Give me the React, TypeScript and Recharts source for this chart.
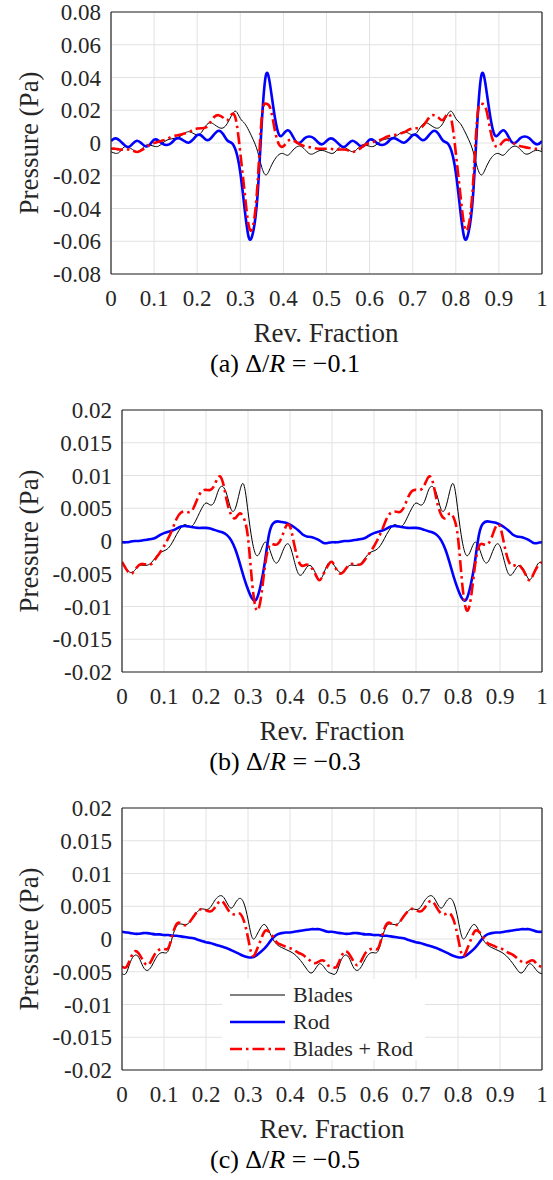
import React from 'react'
import { LineChart, Line, XAxis, YAxis, CartesianGrid } from 'recharts'

// sample positions (fraction of one revolution)
const revFraction = [
  0, 0.01, 0.02, 0.03, 0.04, 0.05, 0.06, 0.07, 0.08, 0.09,
  0.1, 0.11, 0.12, 0.13, 0.14, 0.15, 0.16, 0.17, 0.18, 0.19,
  0.2, 0.21, 0.22, 0.23, 0.24, 0.25, 0.26, 0.27, 0.28, 0.29,
  0.3, 0.31, 0.32, 0.33, 0.34, 0.35, 0.36, 0.37, 0.38, 0.39,
  0.4, 0.41, 0.42, 0.43, 0.44, 0.45, 0.46, 0.47, 0.48, 0.49,
  0.5, 0.51, 0.52, 0.53, 0.54, 0.55, 0.56, 0.57, 0.58, 0.59,
  0.6, 0.61, 0.62, 0.63, 0.64, 0.65, 0.66, 0.67, 0.68, 0.69,
  0.7, 0.71, 0.72, 0.73, 0.74, 0.75, 0.76, 0.77, 0.78, 0.79,
  0.8, 0.81, 0.82, 0.83, 0.84, 0.85, 0.86, 0.87, 0.88, 0.89,
  0.9, 0.91, 0.92, 0.93, 0.94, 0.95, 0.96, 0.97, 0.98, 0.99,
  1
]

// (a) Delta/R = -0.1
const bladesA = [
  -0.0053, -0.0063, -0.0055, -0.0025, -0.0025, -0.004, -0.0053, -0.004, -0.0015, -0.0012,
  -0.002, -0.002, 0.0, 0.0018, 0.0025, 0.003, 0.004, 0.0058, 0.0069, 0.006,
  0.005, 0.0065, 0.0105, 0.0124, 0.0112, 0.0095, 0.0092, 0.012, 0.017, 0.0193,
  0.015, 0.012, 0.0075, 0.002, -0.005, -0.015, -0.0195, -0.015, -0.01, -0.007,
  -0.0065, -0.0075, -0.005, -0.0025, -0.002, -0.004, -0.0065, -0.0065, -0.005, -0.0045,
  -0.0053, -0.0063, -0.0055, -0.0025, -0.0025, -0.004, -0.0053, -0.004, -0.0015, -0.0012,
  -0.002, -0.002, 0.0, 0.0018, 0.0025, 0.003, 0.004, 0.0058, 0.0069, 0.006,
  0.005, 0.0065, 0.0105, 0.0124, 0.0112, 0.0095, 0.0092, 0.012, 0.017, 0.0193,
  0.015, 0.012, 0.0075, 0.002, -0.005, -0.015, -0.0195, -0.015, -0.01, -0.007,
  -0.0065, -0.0075, -0.005, -0.0025, -0.002, -0.004, -0.0065, -0.0065, -0.005, -0.0045,
  -0.0053
]
const rodA = [
  0.0012, 0.0028, 0.0015, -0.001, -0.0025, -0.0005, 0.0014, 0.0, -0.002, -0.001,
  0.002, 0.0015, -0.0005, -0.0012, 0.0, 0.0025, 0.0028, 0.0012, 0.0002, 0.002,
  0.0048, 0.0045, 0.002, 0.0025, 0.0055, 0.0075, 0.0055, 0.0015, 0.0, -0.005,
  -0.018, -0.04, -0.058, -0.054, -0.032, 0.013, 0.042, 0.034, 0.016, 0.005,
  0.0055, 0.0078, 0.005, 0.0005, 0.0005, 0.003, 0.004, 0.003, 0.0005, -0.0008,
  0.0012, 0.0028, 0.0015, -0.001, -0.0025, -0.0005, 0.0014, 0.0, -0.002, -0.001,
  0.002, 0.0015, -0.0005, -0.0012, 0.0, 0.0025, 0.0028, 0.0012, 0.0002, 0.002,
  0.0048, 0.0045, 0.002, 0.0025, 0.0055, 0.0075, 0.0055, 0.0015, 0.0, -0.005,
  -0.018, -0.04, -0.058, -0.054, -0.032, 0.013, 0.042, 0.034, 0.016, 0.005,
  0.0055, 0.0078, 0.005, 0.0005, 0.0005, 0.003, 0.004, 0.003, 0.0005, -0.0008,
  0.0012
]
const bladesRodA = [
  -0.0035, -0.0035, -0.004, -0.004, -0.004, -0.0045, -0.0055, -0.0045, -0.003, -0.001,
  0.0, 0.0008, 0.0015, 0.0025, 0.0038, 0.0045, 0.005, 0.0058, 0.0065, 0.008,
  0.0088, 0.009, 0.0095, 0.0125, 0.016, 0.017, 0.0155, 0.014, 0.0175, 0.014,
  -0.006, -0.03, -0.051, -0.05, -0.025, 0.016, 0.024, 0.021, 0.008, -0.001,
  -0.002, 0.001, 0.002, 0.0005, -0.001, -0.002, -0.0025, -0.003, -0.0035, -0.0035,
  -0.0035, -0.0035, -0.004, -0.004, -0.004, -0.0045, -0.0055, -0.0045, -0.003, -0.001,
  0.0, 0.0008, 0.0015, 0.0025, 0.0038, 0.0045, 0.005, 0.0058, 0.0065, 0.008,
  0.0088, 0.009, 0.0095, 0.0125, 0.016, 0.017, 0.0155, 0.014, 0.0175, 0.014,
  -0.006, -0.03, -0.051, -0.05, -0.025, 0.016, 0.024, 0.021, 0.008, -0.001,
  -0.002, 0.001, 0.002, 0.0005, -0.001, -0.002, -0.0025, -0.003, -0.0035, -0.0035,
  -0.0035
]

// (b) Delta/R = -0.3
const bladesB = [
  -0.0033, -0.0042, -0.0048, -0.0045, -0.0038, -0.0037, -0.0037, -0.0033, -0.0025, -0.0018,
  -0.0015, -0.0011, -0.0002, 0.001, 0.002, 0.0025, 0.0022, 0.0025, 0.0037, 0.005,
  0.0058, 0.0055, 0.006, 0.0078, 0.0083, 0.007, 0.0048, 0.005, 0.0075, 0.0086,
  0.0045, 0.0, -0.0022, -0.0015, -0.0002, -0.001, -0.0028, -0.0033, -0.002, -0.0006,
  -0.0008, -0.003, -0.005, -0.005, -0.004, -0.0038, -0.0048, -0.0059, -0.005, -0.0035,
  -0.0033, -0.0042, -0.0048, -0.0045, -0.0038, -0.0037, -0.0037, -0.0033, -0.0025, -0.0018,
  -0.0015, -0.0011, -0.0002, 0.001, 0.002, 0.0025, 0.0022, 0.0025, 0.0037, 0.005,
  0.0058, 0.0055, 0.006, 0.0078, 0.0083, 0.007, 0.0048, 0.005, 0.0075, 0.0086,
  0.0045, 0.0, -0.0022, -0.0015, -0.0002, -0.001, -0.0028, -0.0033, -0.002, -0.0006,
  -0.0008, -0.003, -0.005, -0.005, -0.004, -0.0038, -0.0048, -0.0059, -0.005, -0.0035,
  -0.0033
]
const rodB = [
  -0.0002, -0.0002, -0.0001, 0.0, 0.0, 0.0001, 0.0002, 0.0003, 0.0005, 0.0009,
  0.0012, 0.0014, 0.0016, 0.0019, 0.0022, 0.0023, 0.0022, 0.0021, 0.002, 0.002,
  0.002, 0.0019, 0.0017, 0.0015, 0.0013, 0.0009, 0.0001, -0.0013, -0.0033, -0.0055,
  -0.0074, -0.0088, -0.0089, -0.0068, -0.0033, 0.001, 0.0027, 0.003, 0.0029, 0.0028,
  0.0025, 0.0021, 0.0016, 0.001, 0.0007, 0.0006, 0.0004, 0.0001, -0.0003, -0.0003,
  -0.0002, -0.0002, -0.0001, 0.0, 0.0, 0.0001, 0.0002, 0.0003, 0.0005, 0.0009,
  0.0012, 0.0014, 0.0016, 0.0019, 0.0022, 0.0023, 0.0022, 0.0021, 0.002, 0.002,
  0.002, 0.0019, 0.0017, 0.0015, 0.0013, 0.0009, 0.0001, -0.0013, -0.0033, -0.0055,
  -0.0074, -0.0088, -0.0089, -0.0068, -0.0033, 0.001, 0.0027, 0.003, 0.0029, 0.0028,
  0.0025, 0.0021, 0.0016, 0.001, 0.0007, 0.0006, 0.0004, 0.0001, -0.0003, -0.0003,
  -0.0002
]
const bladesRodB = [
  -0.0032, -0.0043, -0.005, -0.0045, -0.0037, -0.0035, -0.0036, -0.0035, -0.0027, -0.0018,
  -0.0008, 0.0004, 0.0018, 0.0034, 0.0043, 0.0045, 0.0044, 0.005, 0.0065, 0.0076,
  0.0078, 0.0078, 0.0085, 0.0098, 0.009, 0.006, 0.004, 0.0035, 0.0042, 0.0035,
  0.0005, -0.0065, -0.0105, -0.009, -0.004, -0.0008, -0.0005, -0.0005, 0.0005, 0.0022,
  0.0022, -0.0005, -0.003, -0.0038, -0.0036, -0.004, -0.005, -0.006, -0.005, -0.0038,
  -0.0032, -0.0043, -0.005, -0.0045, -0.0037, -0.0035, -0.0036, -0.0035, -0.0027, -0.0018,
  -0.0008, 0.0004, 0.0018, 0.0034, 0.0043, 0.0045, 0.0044, 0.005, 0.0065, 0.0076,
  0.0078, 0.0078, 0.0085, 0.0098, 0.009, 0.006, 0.004, 0.0035, 0.0042, 0.0035,
  0.0005, -0.0065, -0.0105, -0.009, -0.004, -0.0008, -0.0005, -0.0005, 0.0005, 0.0022,
  0.0022, -0.0005, -0.003, -0.0038, -0.0036, -0.004, -0.005, -0.006, -0.005, -0.0038,
  -0.0032
]

// (c) Delta/R = -0.5
const bladesC = [
  -0.0053, -0.0052, -0.0035, -0.0025, -0.0028, -0.0042, -0.0048, -0.0042, -0.003, -0.0022,
  -0.0021, -0.0018, 0.0003, 0.002, 0.0023, 0.0022, 0.0025, 0.0035, 0.0042, 0.0046,
  0.0045, 0.0048, 0.0058, 0.0065, 0.0065, 0.0055, 0.0047, 0.0055, 0.0062, 0.0055,
  0.003, 0.0002, 0.0005, 0.0017, 0.0022, 0.0012, -0.0001, -0.0009, -0.0013, -0.0016,
  -0.0019, -0.0023, -0.0029, -0.0037, -0.0046, -0.0052, -0.0046, -0.0038, -0.0042, -0.005,
  -0.0053, -0.0052, -0.0035, -0.0025, -0.0028, -0.0042, -0.0048, -0.0042, -0.003, -0.0022,
  -0.0021, -0.0018, 0.0003, 0.002, 0.0023, 0.0022, 0.0025, 0.0035, 0.0042, 0.0046,
  0.0045, 0.0048, 0.0058, 0.0065, 0.0065, 0.0055, 0.0047, 0.0055, 0.0062, 0.0055,
  0.003, 0.0002, 0.0005, 0.0017, 0.0022, 0.0012, -0.0001, -0.0009, -0.0013, -0.0016,
  -0.0019, -0.0023, -0.0029, -0.0037, -0.0046, -0.0052, -0.0046, -0.0038, -0.0042, -0.005,
  -0.0053
]
const rodC = [
  0.0011, 0.001, 0.0009, 0.0008, 0.0008, 0.0009, 0.0009, 0.0008, 0.0007, 0.0007,
  0.0006, 0.0006, 0.0005, 0.0005, 0.0004, 0.0003, 0.0002, 0.0001, -0.0001, -0.0003,
  -0.0005, -0.0006, -0.0008, -0.001, -0.0012, -0.0014, -0.0017, -0.002, -0.0023, -0.0026,
  -0.0028, -0.0028, -0.0025, -0.002, -0.0014, -0.0006, 0.0002, 0.0007, 0.0009, 0.001,
  0.001, 0.0011, 0.0012, 0.0013, 0.0014, 0.0015, 0.0015, 0.0015, 0.0013, 0.0011,
  0.0011, 0.001, 0.0009, 0.0008, 0.0008, 0.0009, 0.0009, 0.0008, 0.0007, 0.0007,
  0.0006, 0.0006, 0.0005, 0.0005, 0.0004, 0.0003, 0.0002, 0.0001, -0.0001, -0.0003,
  -0.0005, -0.0006, -0.0008, -0.001, -0.0012, -0.0014, -0.0017, -0.002, -0.0023, -0.0026,
  -0.0028, -0.0028, -0.0025, -0.002, -0.0014, -0.0006, 0.0002, 0.0007, 0.0009, 0.001,
  0.001, 0.0011, 0.0012, 0.0013, 0.0014, 0.0015, 0.0015, 0.0015, 0.0013, 0.0011,
  0.0011
]
const bladesRodC = [
  -0.0042, -0.0043, -0.003, -0.0019, -0.0022, -0.0033, -0.004, -0.0033, -0.0021, -0.0016,
  -0.0015, -0.0014, 0.0006, 0.0023, 0.0024, 0.0021, 0.0025, 0.0034, 0.0042, 0.0046,
  0.0044, 0.0042, 0.0047, 0.0056, 0.0057, 0.0047, 0.0039, 0.0038, 0.0039, 0.0028,
  0.0002, -0.0025, -0.0018, -0.0002, 0.0012, 0.0011, 0.0003, -0.0006, -0.0009, -0.0012,
  -0.0014, -0.0017, -0.0021, -0.0024, -0.0029, -0.0034, -0.0037, -0.0034, -0.0033, -0.004,
  -0.0042, -0.0043, -0.003, -0.0019, -0.0022, -0.0033, -0.004, -0.0033, -0.0021, -0.0016,
  -0.0015, -0.0014, 0.0006, 0.0023, 0.0024, 0.0021, 0.0025, 0.0034, 0.0042, 0.0046,
  0.0044, 0.0042, 0.0047, 0.0056, 0.0057, 0.0047, 0.0039, 0.0038, 0.0039, 0.0028,
  0.0002, -0.0025, -0.0018, -0.0002, 0.0012, 0.0011, 0.0003, -0.0006, -0.0009, -0.0012,
  -0.0014, -0.0017, -0.0021, -0.0024, -0.0029, -0.0034, -0.0037, -0.0034, -0.0033, -0.004,
  -0.0042
]

const xTicks = [0, 0.1, 0.2, 0.3, 0.4, 0.5, 0.6, 0.7, 0.8, 0.9, 1]
const yTicksA = [-0.08, -0.06, -0.04, -0.02, 0, 0.02, 0.04, 0.06, 0.08]
const yTicksBC = [-0.02, -0.015, -0.01, -0.005, 0, 0.005, 0.01, 0.015, 0.02]
const seriesNames = ['Blades', 'Rod', 'Blades + Rod']

const FONT = '"Liberation Serif", "Times New Roman", Times, serif'
const AXIS = '#262626'
const GRID = '#e2e2e2'
const PLOT_H = 262
const TICK_FONT = 23

// tick labels drawn by hand so the serif face is used
const XTick = (props: any) => (
  <text
    x={props.x}
    y={props.y}
    dy={32}
    textAnchor='middle'
    fill={AXIS}
    fontSize={TICK_FONT}
    fontFamily={FONT}
  >
    {String(props.payload.value)}
  </text>
)

const YTick = (props: any) => (
  <text
    x={props.x}
    y={props.y}
    dx={-10}
    dy={8}
    textAnchor='end'
    fill={AXIS}
    fontSize={TICK_FONT}
    fontFamily={FONT}
  >
    {String(props.payload.value)}
  </text>
)

interface PanelProps {
  top: number
  plotLeft: number
  blades: number[]
  rod: number[]
  sum: number[]
  yTicks: number[]
}

const Panel: React.FC<PanelProps> = ({ top, plotLeft, blades, rod, sum, yTicks }) => {
  const data = revFraction.map((f, i) => ({
    f,
    blades: blades[i],
    rod: rod[i],
    sum: sum[i]
  }))
  const yDomain = [yTicks[0], yTicks[yTicks.length - 1]]

  return (
    <div style={{ position: 'absolute', left: 0, top }}>
      <LineChart
        width={553}
        height={12 + PLOT_H + 42}
        data={data}
        margin={{ top: 12, right: 11, bottom: 0, left: 0 }}
      >
        <CartesianGrid stroke={GRID} strokeWidth={1} />
        <XAxis
          dataKey='f'
          type='number'
          domain={[0, 1]}
          ticks={xTicks}
          interval={0}
          height={42}
          allowDataOverflow
          axisLine={{ stroke: AXIS, strokeWidth: 1.2 }}
          tickLine={false}
          tickSize={0}
          tickMargin={0}
          tick={<XTick />}
        />
        <XAxis
          xAxisId='inBottom'
          dataKey='f'
          type='number'
          domain={[0, 1]}
          ticks={xTicks}
          interval={0}
          allowDataOverflow
          mirror
          axisLine={false}
          tick={false}
          tickSize={5}
          tickLine={{ stroke: AXIS }}
        />
        <XAxis
          xAxisId='top'
          orientation='top'
          dataKey='f'
          type='number'
          domain={[0, 1]}
          ticks={xTicks}
          interval={0}
          allowDataOverflow
          mirror
          axisLine={{ stroke: AXIS, strokeWidth: 1.2 }}
          tick={false}
          tickSize={5}
          tickLine={{ stroke: AXIS }}
        />
        <YAxis
          type='number'
          domain={yDomain}
          ticks={yTicks}
          interval={0}
          width={plotLeft}
          allowDataOverflow
          axisLine={{ stroke: AXIS, strokeWidth: 1.2 }}
          tickLine={false}
          tickSize={0}
          tickMargin={0}
          tick={<YTick />}
        />
        <YAxis
          yAxisId='inLeft'
          type='number'
          domain={yDomain}
          ticks={yTicks}
          interval={0}
          allowDataOverflow
          mirror
          axisLine={false}
          tick={false}
          tickSize={5}
          tickLine={{ stroke: AXIS }}
        />
        <YAxis
          yAxisId='right'
          orientation='right'
          type='number'
          domain={yDomain}
          ticks={yTicks}
          interval={0}
          allowDataOverflow
          mirror
          axisLine={{ stroke: AXIS, strokeWidth: 1.2 }}
          tick={false}
          tickSize={5}
          tickLine={{ stroke: AXIS }}
        />
        <Line
          name={seriesNames[0]}
          dataKey='blades'
          type='natural'
          stroke='#000000'
          strokeWidth={1}
          dot={false}
          isAnimationActive={false}
        />
        <Line
          name={seriesNames[1]}
          dataKey='rod'
          type='natural'
          stroke='#0000ff'
          strokeWidth={2.6}
          dot={false}
          isAnimationActive={false}
        />
        <Line
          name={seriesNames[2]}
          dataKey='sum'
          type='natural'
          stroke='#ff0000'
          strokeWidth={2.6}
          strokeDasharray='12 4 2.5 4'
          dot={false}
          isAnimationActive={false}
        />
      </LineChart>
    </div>
  )
}

// text layer: axis titles, sub-captions and the legend of panel (c)
const Labels: React.FC = () => {
  const panels = [
    { bottom: 274, cx: 326, tag: '(a)', val: '0.1' },
    { bottom: 672, cx: 332, tag: '(b)', val: '0.3' },
    { bottom: 1070, cx: 332, tag: '(c)', val: '0.5' }
  ]
  const legendRows = [
    { name: seriesNames[0], color: '#000000', width: 1, dash: undefined, y: 995 },
    { name: seriesNames[1], color: '#0000ff', width: 2.6, dash: undefined, y: 1022 },
    { name: seriesNames[2], color: '#ff0000', width: 2.6, dash: '12 4 2.5 4', y: 1049 }
  ]
  return (
    <svg
      width={553}
      height={1180}
      style={{ position: 'absolute', left: 0, top: 0, pointerEvents: 'none' }}
      fontFamily={FONT}
      fill='#000'
    >
      {panels.map((p) => (
        <g key={p.tag}>
          <text
            transform={`translate(38, ${p.bottom - PLOT_H / 2}) rotate(-90)`}
            textAnchor='middle'
            fontSize={27}
            fill={AXIS}
          >
            Pressure (Pa)
          </text>
          <text x={p.cx} y={p.bottom + 68} textAnchor='middle' fontSize={27} fill={AXIS}>
            Rev. Fraction
          </text>
          <text x={285} y={p.bottom + 98} textAnchor='middle' fontSize={26}>
            {p.tag} Δ/<tspan fontStyle='italic'>R</tspan> = −{p.val}
          </text>
        </g>
      ))}
      <rect x={222} y={979} width={203} height={81} fill='#ffffff' />
      {legendRows.map((r) => (
        <g key={r.name}>
          <line
            x1={230}
            x2={285}
            y1={r.y}
            y2={r.y}
            stroke={r.color}
            strokeWidth={r.width}
            strokeDasharray={r.dash}
          />
          <text x={293} y={r.y + 7} fontSize={22} fill={AXIS}>
            {r.name}
          </text>
        </g>
      ))}
    </svg>
  )
}

export default function App() {
  return (
    <div
      style={{
        position: 'absolute',
        left: 0,
        top: 0,
        width: 553,
        height: 1180,
        background: '#ffffff'
      }}
    >
      <Panel top={0} plotLeft={111} blades={bladesA} rod={rodA} sum={bladesRodA} yTicks={yTicksA} />
      <Panel top={398} plotLeft={122} blades={bladesB} rod={rodB} sum={bladesRodB} yTicks={yTicksBC} />
      <Panel top={796} plotLeft={122} blades={bladesC} rod={rodC} sum={bladesRodC} yTicks={yTicksBC} />
      <Labels />
    </div>
  )
}
